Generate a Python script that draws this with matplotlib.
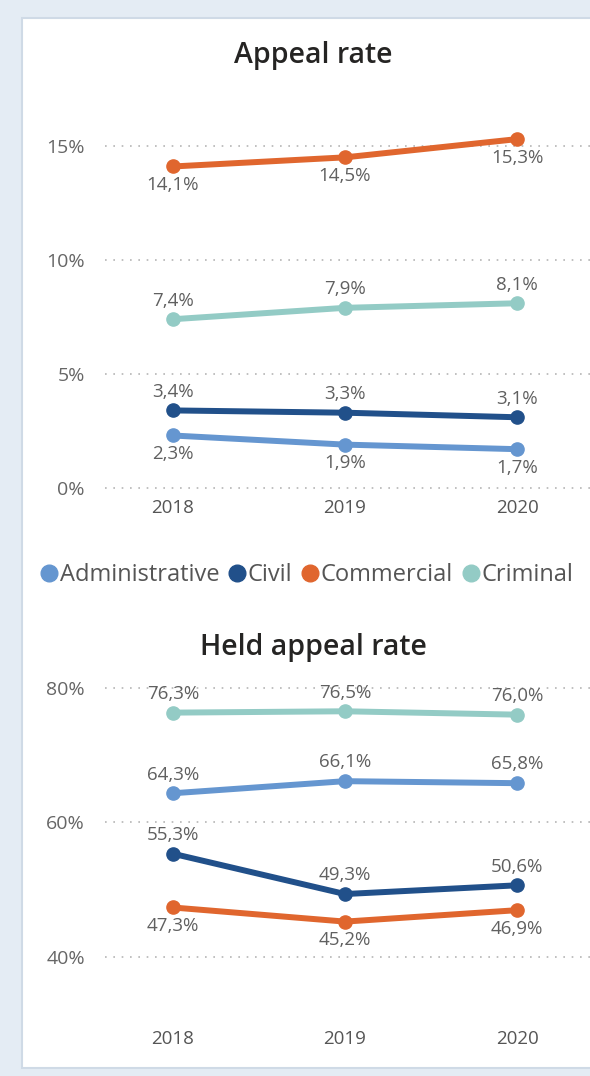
import matplotlib.pyplot as plt
from matplotlib.patches import Rectangle
from matplotlib.lines import Line2D

years = ['2018', '2019', '2020']
series = ['Administrative', 'Civil', 'Commercial', 'Criminal']
colors = ['#6596d0', '#21508a', '#e0662e', '#93cbc5']

appeal_rate = {
	'Administrative': [2.3, 1.9, 1.7],
	'Civil': [3.4, 3.3, 3.1],
	'Commercial': [14.1, 14.5, 15.3],
	'Criminal': [7.4, 7.9, 8.1],
}
held_rate = {
	'Administrative': [64.3, 66.1, 65.8],
	'Civil': [55.3, 49.3, 50.6],
	'Commercial': [47.3, 45.2, 46.9],
	'Criminal': [76.3, 76.5, 76.0],
}
# which side of the point the label sits on (+1 above, -1 below)
appeal_side = {'Administrative': -1, 'Civil': 1, 'Commercial': -1, 'Criminal': 1}
held_side = {'Administrative': 1, 'Civil': 1, 'Commercial': -1, 'Criminal': 1}

plt.rcParams['font.family'] = ['Open Sans', 'DejaVu Sans']

fig = plt.figure(figsize=(5.9, 10.76), dpi=100)
fig.patch.set_facecolor('#e4ecf4')
W, H = 590, 1076
fig.patches.append(Rectangle((22 / W, 1 - 1068 / H), 1, (1068 - 18) / H,
	transform=fig.transFigure, facecolor='white', edgecolor='#cfdae6',
	linewidth=1.5, zorder=-10))


def fmt(v):
	return ('%.1f%%' % v).replace('.', ',')


def draw(ax, data, sides, ticks, ylim, pad):
	ax.set_facecolor('none')
	ax.set_xlim(-0.395, 2.424)
	ax.set_ylim(*ylim)
	for t in ticks:
		ax.axhline(t, color='#b5b5b5', linestyle=(0, (1, 4)), linewidth=1.2, zorder=1)
	for name, c in zip(series, colors):
		vals = data[name]
		ax.plot(range(3), vals, color=c, linewidth=4.3, marker='o', markersize=9.5,
			solid_capstyle='round', zorder=3)
		for i, v in enumerate(vals):
			ax.annotate(fmt(v), (i, v), xytext=(0, 7 * sides[name]),
				textcoords='offset points', ha='center',
				va='bottom' if sides[name] > 0 else 'top',
				fontsize=13.5, color='#606060')
	ax.set_yticks(ticks)
	ax.set_yticklabels(['%d%%' % t for t in ticks], fontsize=14, color='#666666')
	ax.set_xticks(range(3))
	ax.set_xticklabels(years, fontsize=13.5, color='#555555')
	ax.tick_params(length=0)
	ax.tick_params(axis='x', pad=pad)
	ax.tick_params(axis='y', pad=14.5)
	for s in ax.spines.values():
		s.set_visible(False)


ax1 = fig.add_axes([105 / W, 1 - 495 / H, 1 - 105 / W, 365 / H])
draw(ax1, appeal_rate, appeal_side, [0, 5, 10, 15], (-0.31, 15.7), 3)

ax2 = fig.add_axes([105 / W, 1 - 1015 / H, 1 - 105 / W, 340 / H])
draw(ax2, held_rate, held_side, [40, 60, 80], (31.3, 81.9), 11)

fig.text(313 / W, 1 - 55 / H, 'Appeal rate', ha='center', va='center',
	fontsize=20.5, fontweight='semibold', color='#252423')
fig.text(313 / W, 1 - 648 / H, 'Held appeal rate', ha='center', va='center',
	fontsize=20.5, fontweight='semibold', color='#252423')

handles = [Line2D([], [], linestyle='none', marker='o', markersize=12, color=c) for c in colors]
fig.legend(handles, series, loc='center left', bbox_to_anchor=(30 / W, 1 - 575 / H),
	ncol=4, frameon=False, fontsize=17, handletextpad=0.0, columnspacing=0.35,
	handlelength=0.85, borderaxespad=0, labelcolor='#555555')

fig.savefig('out.png', dpi=100, facecolor=fig.get_facecolor())
